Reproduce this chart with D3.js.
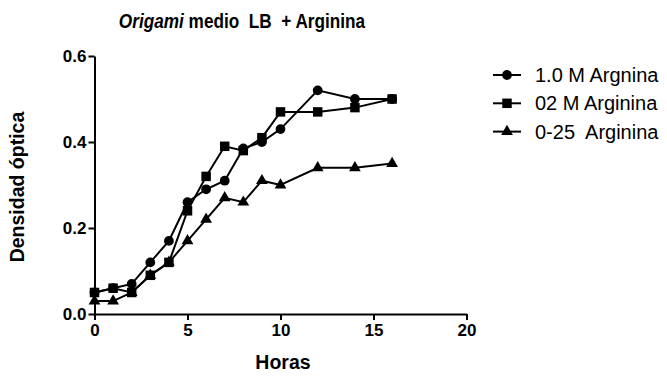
<!DOCTYPE html>
<html>
<head>
<meta charset="utf-8">
<script src="https://cdn.jsdelivr.net/npm/d3@7"></script>
<style>
  body { margin: 0; background: #fff; }
  svg { font-family: "Liberation Sans", Arial, sans-serif; }
</style>
</head>
<body>
<svg id="chart" width="667" height="377"></svg>
<script>
// values
const horas = [0, 1, 2, 3, 4, 5, 6, 7, 8, 9, 10, 12, 14, 16];
const arg10 = [0.05, 0.06, 0.07, 0.12, 0.17, 0.26, 0.29, 0.31, 0.385, 0.40, 0.43, 0.52, 0.50, 0.50];
const arg02 = [0.05, 0.06, 0.05, 0.09, 0.12, 0.24, 0.32, 0.39, 0.38, 0.41, 0.47, 0.47, 0.48, 0.50];
const arg025 = [0.03, 0.03, 0.05, 0.09, 0.12, 0.17, 0.22, 0.27, 0.26, 0.31, 0.30, 0.34, 0.34, 0.35];
const seriesNames = ['1.0 M Argnina', '02 M Arginina', '0-25  Arginina'];
const xTicks = [0, 5, 10, 15, 20];
const yTicks = [0, 0.2, 0.4, 0.6];

const series = [
  {name: seriesNames[0], values: arg10, sym: d3.symbolCircle, size: 75},
  {name: seriesNames[1], values: arg02, sym: d3.symbolSquare, size: 90},
  {name: seriesNames[2], values: arg025, sym: d3.symbolTriangle, size: 60}
];

const svg = d3.select('#chart');
const x = d3.scaleLinear().domain([0, 20]).range([94.5, 466.5]);
const y = d3.scaleLinear().domain([0, 0.6]).range([314, 56]);

// axes
const xAxis = svg.append('g')
  .attr('transform', 'translate(0,314)')
  .call(d3.axisBottom(x).tickValues(xTicks).tickSize(6).tickSizeOuter(0).tickPadding(4));
const yAxis = svg.append('g')
  .attr('transform', 'translate(94.5,0)')
  .call(d3.axisLeft(y).tickValues(yTicks).tickSize(6).tickSizeOuter(0).tickPadding(2).tickFormat(d3.format('.1f')));

[xAxis, yAxis].forEach(a => {
  a.selectAll('path, line').attr('stroke', '#000').attr('stroke-width', 2);
  a.selectAll('text').attr('fill', '#000').style('font-size', '17px').style('font-weight', 'bold');
});

// lines and markers
const line = d3.line().x((d, i) => x(horas[i])).y(d => y(d));
series.forEach(s => {
  svg.append('path')
    .datum(s.values)
    .attr('fill', 'none')
    .attr('stroke', '#000')
    .attr('stroke-width', 2)
    .attr('d', line);
  svg.append('g').selectAll('path')
    .data(s.values)
    .enter()
    .append('path')
    .attr('d', d3.symbol().type(s.sym).size(s.size))
    .attr('transform', (d, i) => `translate(${x(horas[i])},${y(d)})`)
    .attr('fill', '#000');
});

// title (slightly condensed, like the original)
const title = svg.append('text')
  .attr('transform', 'translate(242,28) scale(0.86,1)')
  .attr('text-anchor', 'middle')
  .style('font-size', '20px').style('font-weight', 'bold');
title.append('tspan').style('font-style', 'italic').text('Origami');
title.append('tspan').attr('xml:space', 'preserve').text(' medio  LB  + Arginina');

// axis titles
svg.append('text')
  .attr('x', 283).attr('y', 369)
  .attr('text-anchor', 'middle')
  .style('font-size', '19.5px').style('font-weight', 'bold')
  .text('Horas');
svg.append('text')
  .attr('transform', 'translate(24,187) rotate(-90)')
  .attr('text-anchor', 'middle')
  .style('font-size', '19.5px').style('font-weight', 'bold')
  .text('Densidad óptica');

// legend
const legend = svg.append('g').selectAll('g')
  .data(series)
  .enter()
  .append('g')
  .attr('transform', (d, i) => `translate(493,${75 + i * 28.3})`);
legend.append('line')
  .attr('x1', 0).attr('x2', 28)
  .attr('stroke', '#000').attr('stroke-width', 2);
legend.append('path')
  .attr('d', d => d3.symbol().type(d.sym).size(d.size)())
  .attr('transform', 'translate(14,0)')
  .attr('fill', '#000');
legend.append('text')
  .attr('x', 42).attr('y', 7)
  .attr('xml:space', 'preserve')
  .style('font-size', '20px')
  .text(d => d.name);
</script>
</body>
</html>
